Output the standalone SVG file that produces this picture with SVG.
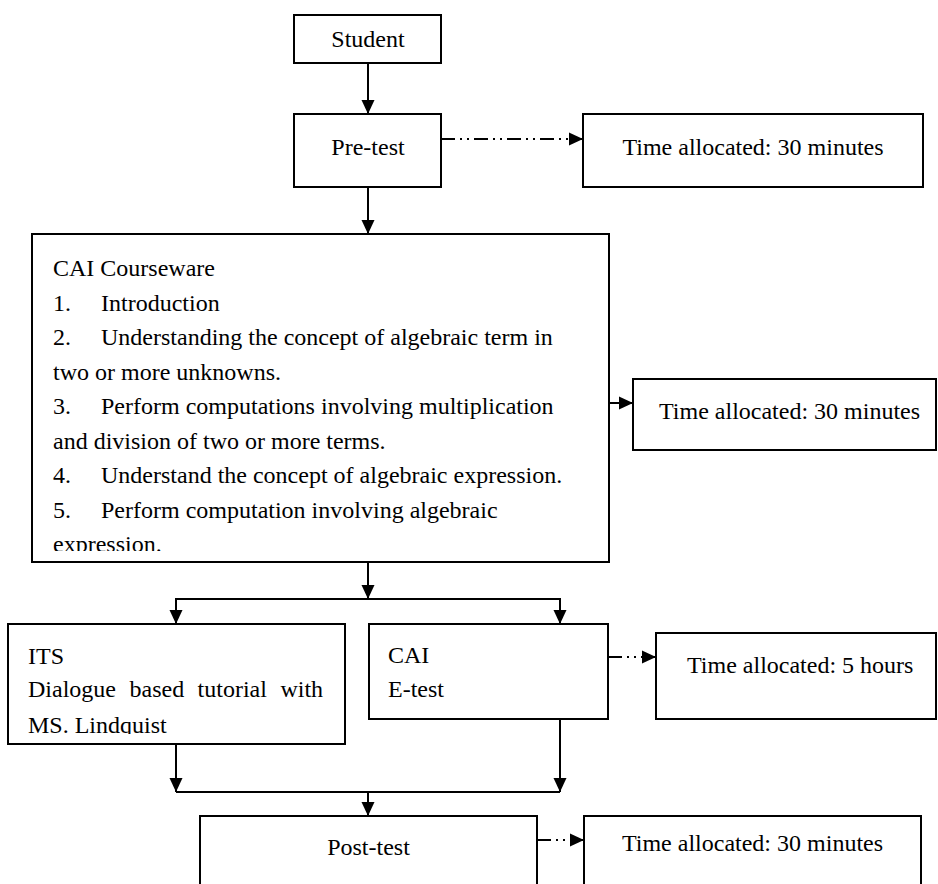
<svg xmlns="http://www.w3.org/2000/svg" width="938" height="884" viewBox="0 0 938 884">
<style>
.box{fill:#fff;stroke:#000;stroke-width:2}
.t{font-family:"Liberation Serif","Times New Roman",serif;font-size:24px;fill:#000}
.c{text-anchor:middle}
.ln{fill:none;stroke:#000;stroke-width:2}
.dd{stroke-dasharray:14 5 2 5 2 5}
</style>
<defs>
<marker id="ah" viewBox="0 0 14 14" refX="14" refY="7" markerWidth="14" markerHeight="14" markerUnits="userSpaceOnUse" orient="auto">
<path d="M0,0.5 L14,7 L0,13.5 z" fill="#000"/>
</marker>
<clipPath id="clipCai"><rect x="33" y="235" width="575" height="316"/></clipPath>
<clipPath id="clipIts"><rect x="9" y="625" width="335" height="109"/></clipPath>
</defs>

<g id="student">
<rect class="box" x="294" y="15" width="147" height="48"/>
<text class="t c" x="368" y="47">Student</text>
</g>
<g id="pretest">
<rect class="box" x="294" y="114" width="147" height="73"/>
<text class="t c" x="368" y="155">Pre-test</text>
</g>
<g id="time1">
<rect class="box" x="583" y="114" width="340" height="73"/>
<text class="t c" x="753" y="155">Time allocated: 30 minutes</text>
</g>
<g id="cai-courseware">
<rect class="box" x="32" y="234" width="577" height="328"/>
<g clip-path="url(#clipCai)">
<text class="t" x="53" y="276">CAI Courseware</text>
<text class="t" x="53" y="310.5">1.</text><text class="t" x="101" y="310.5">Introduction</text>
<text class="t" x="53" y="345">2.</text><text class="t" x="101" y="345">Understanding the concept of algebraic term in</text>
<text class="t" x="53" y="379.5">two or more unknowns.</text>
<text class="t" x="53" y="414">3.</text><text class="t" x="101" y="414">Perform computations involving multiplication</text>
<text class="t" x="53" y="448.5">and division of two or more terms.</text>
<text class="t" x="53" y="483">4.</text><text class="t" x="101" y="483">Understand the concept of algebraic expression.</text>
<text class="t" x="53" y="517.5">5.</text><text class="t" x="101" y="517.5">Perform computation involving algebraic</text>
<text class="t" x="53" y="552">expression.</text>
</g>
</g>
<g id="time2">
<rect class="box" x="633" y="379" width="303" height="71"/>
<text class="t" x="659" y="419">Time allocated: 30 minutes</text>
</g>
<g id="its">
<rect class="box" x="8" y="624" width="337" height="120"/>
<g clip-path="url(#clipIts)">
<text class="t" x="28" y="664">ITS</text>
<text class="t" y="697"><tspan x="28">Dialogue</tspan><tspan x="129.5">based</tspan><tspan x="197.6">tutorial</tspan><tspan x="280.4">with</tspan></text>
<text class="t" x="28" y="733">MS. Lindquist</text>
</g>
</g>
<g id="cai-etest">
<rect class="box" x="369" y="624" width="239" height="95"/>
<text class="t" x="388" y="663">CAI</text>
<text class="t" x="388" y="697">E-test</text>
</g>
<g id="time3">
<rect class="box" x="656" y="633" width="280" height="86"/>
<text class="t" x="687" y="673">Time allocated: 5 hours</text>
</g>
<g id="posttest">
<rect class="box" x="200" y="816" width="337" height="80"/>
<text class="t c" x="368.5" y="855">Post-test</text>
</g>
<g id="time4">
<rect class="box" x="584" y="816" width="337" height="80"/>
<text class="t c" x="752.5" y="851">Time allocated: 30 minutes</text>
</g>

<g id="connectors">
<line class="ln" x1="368" y1="63" x2="368" y2="114" marker-end="url(#ah)"/>
<line class="ln dd" x1="441" y1="139" x2="583" y2="139" marker-end="url(#ah)"/>
<line class="ln" x1="368" y1="187" x2="368" y2="234" marker-end="url(#ah)"/>
<line class="ln" x1="609" y1="403" x2="633" y2="403" marker-end="url(#ah)"/>
<line class="ln" x1="368" y1="562" x2="368" y2="599" marker-end="url(#ah)"/>
<polyline class="ln" points="176,624 176,599 560,599 560,624"/>
<line class="ln" x1="176" y1="599" x2="176" y2="624" marker-end="url(#ah)"/>
<line class="ln" x1="560" y1="599" x2="560" y2="624" marker-end="url(#ah)"/>
<line class="ln dd" x1="608" y1="657" x2="656" y2="657" marker-end="url(#ah)"/>
<line class="ln" x1="176" y1="744" x2="176" y2="792" marker-end="url(#ah)"/>
<line class="ln" x1="560" y1="719" x2="560" y2="792" marker-end="url(#ah)"/>
<line class="ln" x1="176" y1="792" x2="560" y2="792"/>
<line class="ln" x1="368" y1="792" x2="368" y2="816" marker-end="url(#ah)"/>
<line class="ln dd" x1="537" y1="840" x2="584" y2="840" marker-end="url(#ah)"/>
</g>
</svg>
